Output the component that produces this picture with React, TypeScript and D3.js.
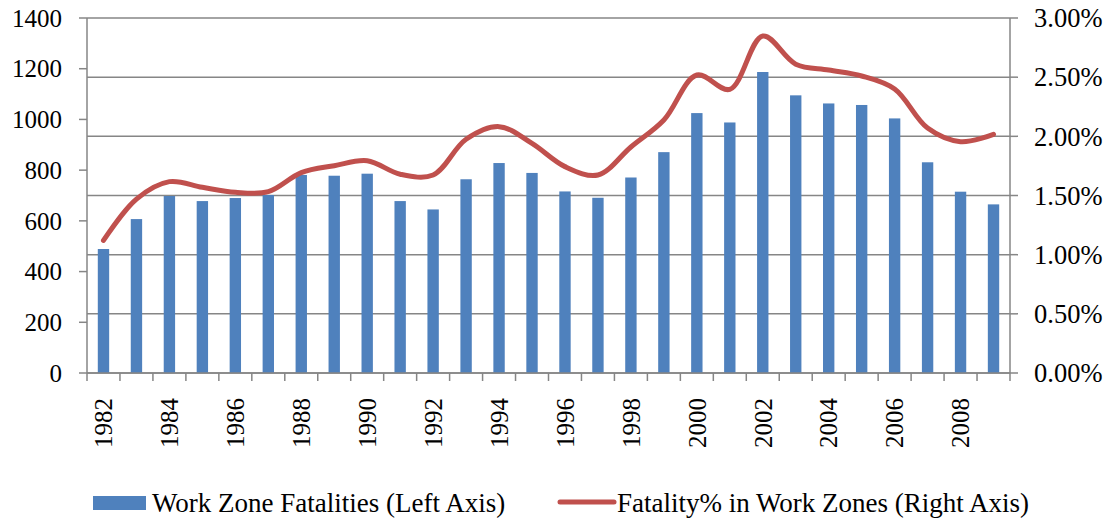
import * as d3 from "d3";

const years = [
  1982, 1983, 1984, 1985, 1986, 1987, 1988, 1989, 1990, 1991, 1992, 1993, 1994, 1995,
  1996, 1997, 1998, 1999, 2000, 2001, 2002, 2003, 2004, 2005, 2006, 2007, 2008, 2009,
];
const fatalities = [
  489, 607, 698, 678, 690, 702, 781, 778, 786, 678, 645, 764, 828, 789,
  716, 691, 771, 871, 1025, 988, 1187, 1095, 1063, 1057, 1004, 831, 715, 665,
];
const fatalityPct = [
  1.12, 1.47, 1.617, 1.569, 1.527, 1.532, 1.693, 1.752, 1.794, 1.68, 1.673, 1.975, 2.082, 1.94,
  1.744, 1.673, 1.91, 2.138, 2.518, 2.397, 2.848, 2.61, 2.56, 2.51, 2.4, 2.07, 1.955, 2.017,
];
const leftTicks = [0, 200, 400, 600, 800, 1000, 1200, 1400];
const rightTicks = [0, 0.5, 1, 1.5, 2, 2.5, 3];

const W = 1109;
const H = 520;
const margin = { top: 18, right: 99, bottom: 147, left: 87 };
const AXIS = "#868686";
const BAR = "#4F81BD";
const LINE = "#C0504D";
// serif text, set on every label
const txt = { fontFamily: "Liberation Serif" };

export default function App() {
  const x = d3
    .scaleBand<number>()
    .domain(years)
    .range([margin.left, W - margin.right]);
  const yL = d3.scaleLinear().domain([0, 1400]).range([H - margin.bottom, margin.top]);
  const yR = d3.scaleLinear().domain([0, 3]).range([H - margin.bottom, margin.top]);
  const bw = x.bandwidth() * 0.345;
  const cx = (d: number) => (x(d) ?? 0) + x.bandwidth() / 2;

  const line = d3
    .line<number>()
    .x((_, i) => cx(years[i]))
    .y((d) => yR(d))
    .curve(d3.curveCatmullRom.alpha(0.5));

  const x0 = margin.left;
  const x1 = W - margin.right;
  const yb = H - margin.bottom;
  const boundaries = years.map((d) => x(d) ?? 0).concat([x1]);

  return (
    <svg width={W} height={H} style={{ position: "absolute", left: 0, top: 0, background: "#fff" }}>
      {/* gridlines from right axis */}
      {rightTicks.map((t) => (
        <line key={"g" + t} x1={x0} x2={x1} y1={yR(t)} y2={yR(t)} stroke={AXIS} strokeWidth={1.5} />
      ))}

      {/* bars */}
      {years.map((yr, i) => (
        <rect
          key={yr}
          x={cx(yr) - bw / 2}
          y={yL(fatalities[i])}
          width={bw}
          height={yb - yL(fatalities[i])}
          fill={BAR}
        />
      ))}

      {/* axes */}
      <line x1={x0} x2={x0} y1={margin.top} y2={yb} stroke={AXIS} strokeWidth={1.5} />
      <line x1={x1} x2={x1} y1={margin.top} y2={yb} stroke={AXIS} strokeWidth={1.5} />
      <line x1={x0} x2={x1} y1={yb} y2={yb} stroke={AXIS} strokeWidth={1.5} />
      {leftTicks.map((t) => (
        <g key={"l" + t}>
          <line x1={x0 - 8} x2={x0} y1={yL(t)} y2={yL(t)} stroke={AXIS} strokeWidth={1.5} />
          <text x={62} y={yL(t)} dy="0.35em" textAnchor="end" fontSize={25} fill="#000" style={txt}>
            {t}
          </text>
        </g>
      ))}
      {rightTicks.map((t) => (
        <g key={"r" + t}>
          <line x1={x1} x2={x1 + 8} y1={yR(t)} y2={yR(t)} stroke={AXIS} strokeWidth={1.5} />
          <text x={1034} y={yR(t)} dy="0.35em" textAnchor="start" fontSize={26.5} fill="#000" style={txt}>
            {t.toFixed(2) + "%"}
          </text>
        </g>
      ))}
      {boundaries.map((b, i) => (
        <line key={"b" + i} x1={b} x2={b} y1={yb} y2={yb + 8} stroke={AXIS} strokeWidth={1.5} />
      ))}
      {years
        .filter((yr) => yr % 2 === 0)
        .map((yr) => (
          <text
            key={"y" + yr}
            transform={`translate(${cx(yr)},${yb + 25}) rotate(-90)`}
            dy="0.35em"
            textAnchor="end"
            fontSize={25}
            fill="#000"
            style={txt}
          >
            {yr}
          </text>
        ))}

      {/* line */}
      <path
        d={line(fatalityPct) ?? ""}
        fill="none"
        stroke={LINE}
        strokeWidth={5}
        strokeLinecap="round"
        strokeLinejoin="round"
      />

      {/* legend */}
      <rect x={93} y={496} width={53} height={14} fill={BAR} />
      <text x={152} y={512} fontSize={27} fill="#000" style={txt}>
        Work Zone Fatalities (Left Axis)
      </text>
      <line x1={560} x2={614} y1={502} y2={502} stroke={LINE} strokeWidth={5} strokeLinecap="round" />
      <text x={617} y={512} fontSize={27} fill="#000" style={txt}>
        Fatality% in Work Zones (Right Axis)
      </text>
    </svg>
  );
}
